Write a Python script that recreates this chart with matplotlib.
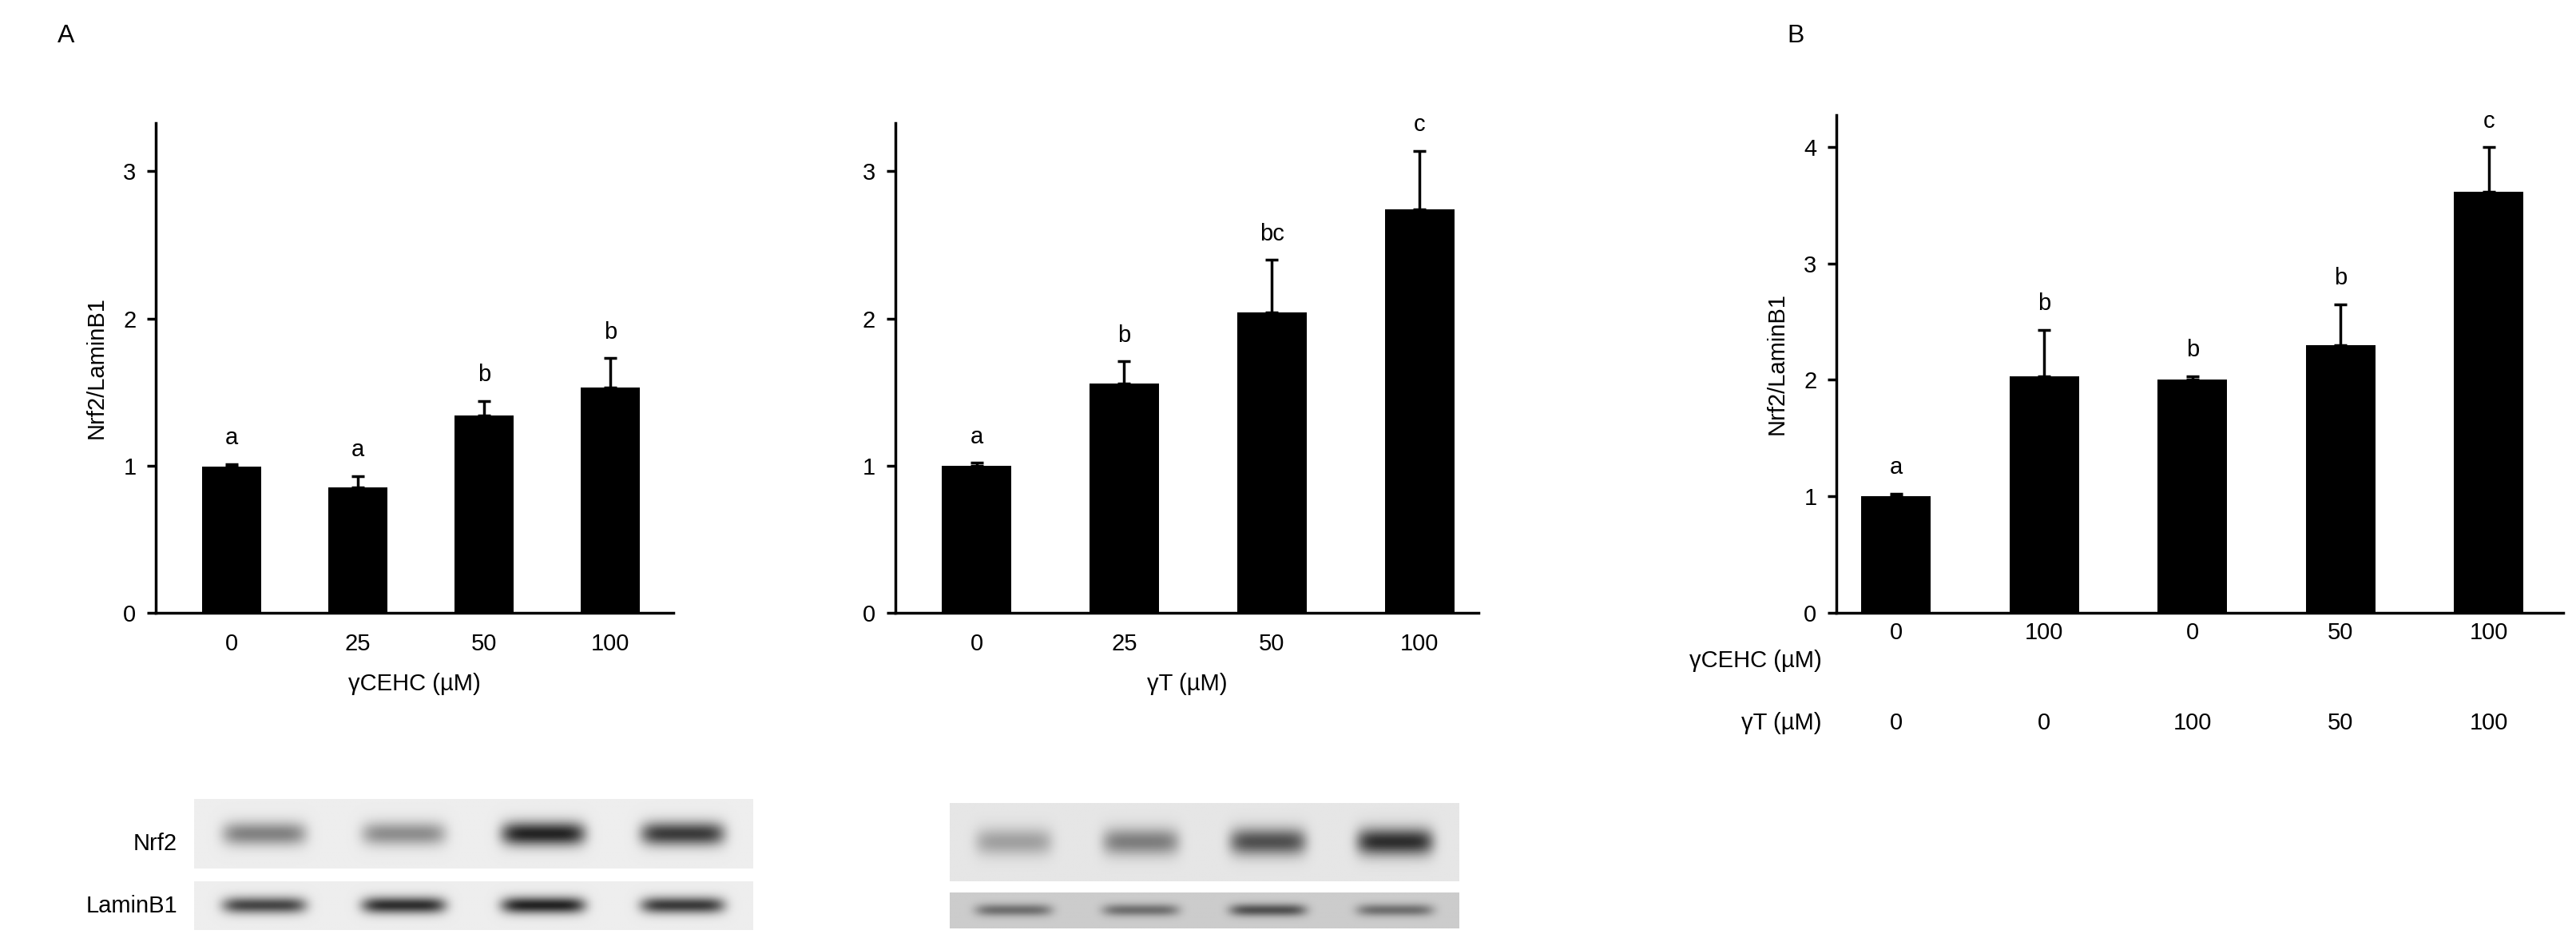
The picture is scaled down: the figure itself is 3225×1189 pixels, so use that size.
import numpy as np
import matplotlib.pyplot as plt
import matplotlib.transforms as mtransforms

plt.rcParams['font.family'] = ['Liberation Sans', 'DejaVu Sans']
FS = 21

# data
doses = ['0', '25', '50', '100']
cehc_mean = [0.99, 0.85, 1.34, 1.53]
cehc_err = [0.02, 0.08, 0.10, 0.20]
cehc_sig = ['a', 'a', 'b', 'b']

gt_mean = [1.00, 1.56, 2.04, 2.74]
gt_err = [0.02, 0.15, 0.36, 0.40]
gt_sig = ['a', 'b', 'bc', 'c']

combo_cehc = ['0', '100', '0', '50', '100']
combo_gt = ['0', '0', '100', '50', '100']
combo_mean = [1.00, 2.03, 2.00, 2.30, 3.62]
combo_err = [0.02, 0.40, 0.03, 0.35, 0.38]
combo_sig = ['a', 'b', 'b', 'b', 'c']

# blot band intensities (0 = none, 1 = strongest)
blot1_nrf2 = [0.45, 0.40, 0.85, 0.75]
blot1_lamin = [0.70, 0.80, 0.85, 0.75]
blot2_nrf2 = [0.30, 0.45, 0.65, 0.80]
blot2_lamin = [0.45, 0.45, 0.60, 0.45]

W, H = 1568, 580
fig = plt.figure(figsize=(32.25, 11.89), dpi=100)


def ax_at(x0, x1, ytop, ybot):
    return fig.add_axes([x0 / W, 1 - ybot / H, (x1 - x0) / W, (ybot - ytop) / H])


def bars(ax, means, errs, sig, ymax, ticks):
    x = np.arange(len(means))
    ax.bar(x, means, width=0.47, color='black')
    ax.errorbar(x, means, yerr=[np.zeros(len(errs)), errs], fmt='none',
                ecolor='black', elinewidth=2.5, capsize=6, capthick=2.5)
    for xi, m, e, s in zip(x, means, errs, sig):
        ax.text(xi, m + e + ymax * 0.03, s, ha='center', va='bottom', fontsize=FS)
    ax.set_ylim(0, ymax)
    ax.set_yticks(ticks)
    for s in ['top', 'right']:
        ax.spines[s].set_visible(False)
    for s in ['left', 'bottom']:
        ax.spines[s].set_linewidth(2.5)
    ax.tick_params(axis='y', length=8, width=2.5, labelsize=FS, pad=10)
    ax.tick_params(axis='x', length=0, labelsize=FS, pad=18)
    return x


ax1 = ax_at(95, 410, 75, 374)
x = bars(ax1, cehc_mean, cehc_err, cehc_sig, 3.33, [0, 1, 2, 3])
ax1.set_xticks(x, doses)
ax1.set_xlim(-0.6, 3.5)
ax1.set_xlabel('γCEHC (µM)', fontsize=FS, labelpad=16)
ax1.set_ylabel('Nrf2/LaminB1', fontsize=FS, labelpad=14)

ax2 = ax_at(545, 900, 75, 374)
x = bars(ax2, gt_mean, gt_err, gt_sig, 3.33, [0, 1, 2, 3])
ax2.set_xticks(x, doses)
ax2.set_xlim(-0.55, 3.4)
ax2.set_xlabel('γT (µM)', fontsize=FS, labelpad=16)

ax3 = ax_at(1118, 1560, 70, 374)
x = bars(ax3, combo_mean, combo_err, combo_sig, 4.28, [0, 1, 2, 3, 4])
ax3.set_xticks(x, combo_cehc)
ax3.set_xlim(-0.4, 4.5)
ax3.tick_params(axis='x', pad=8)
ax3.set_ylabel('Nrf2/LaminB1', fontsize=FS, labelpad=14)
tr = mtransforms.blended_transform_factory(ax3.transData, ax3.transAxes)
for xi, g in zip(x, combo_gt):
    ax3.text(xi, -0.2, g, transform=tr, ha='center', va='top', fontsize=FS)
ax3.text(-0.5, -0.075, 'γCEHC (µM)', transform=tr, ha='right', va='top', fontsize=FS)
ax3.text(-0.5, -0.2, 'γT (µM)', transform=tr, ha='right', va='top', fontsize=FS)

fig.text(35 / W, 1 - 22 / H, 'A', fontsize=FS + 2, va='center')
fig.text(1088 / W, 1 - 22 / H, 'B', fontsize=FS + 2, va='center')


def blot(x0, x1, ytop, ybot, levels, bg):
    ax = ax_at(x0, x1, ytop, ybot)
    nx, ny = 400, 60
    xs = np.linspace(0, len(levels), nx)
    ys = np.linspace(-1, 1, ny)
    img = np.full((ny, nx), bg)
    for i, lv in enumerate(levels):
        px = np.exp(-((xs - (i + 0.5)) / 0.3) ** 6)
        py = np.exp(-(ys / 0.35) ** 2)
        img -= lv * np.outer(py, px) * bg
    ax.imshow(img, cmap='gray', vmin=0, vmax=1, aspect='auto')
    ax.axis('off')


blot(118, 458, 488, 530, blot1_nrf2, 0.93)
blot(118, 458, 538, 568, blot1_lamin, 0.93)
blot(578, 888, 490, 538, blot2_nrf2, 0.90)
blot(578, 888, 545, 567, blot2_lamin, 0.80)
fig.text(108 / W, 1 - 515 / H, 'Nrf2', fontsize=FS, ha='right', va='center')
fig.text(108 / W, 1 - 553 / H, 'LaminB1', fontsize=FS, ha='right', va='center')

fig.savefig('out.png', dpi=100)
